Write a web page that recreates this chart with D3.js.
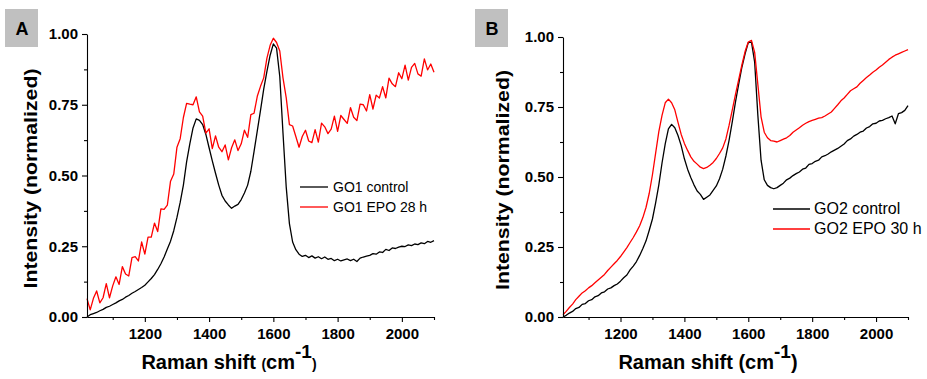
<!DOCTYPE html>
<html>
<head>
<meta charset="utf-8">
<script src="https://cdn.jsdelivr.net/npm/d3@7"></script>
<style>
  body { margin: 0; background: #fff; }
  svg text { font-family: Arial, "Liberation Sans", sans-serif; }
  .tick text { font-weight: bold; font-size: 15px; }
</style>
</head>
<body>
<div id="chart"></div>
<script>
// raman spectra, two panels, values every 10 cm-1

var shift = [1020,1030,1040,1050,1060,1070,1080,1090,1100,1110,1120,1130,1140,1150,1160,1170,1180,1190,
  1200,1210,1220,1230,1240,1250,1260,1270,1280,1290,1300,1310,1320,1330,1340,1350,1360,1370,1380,1390,
  1400,1410,1420,1430,1440,1450,1460,1470,1480,1490,1500,1510,1520,1530,1540,1550,1560,1570,1580,1590,
  1600,1610,1620,1630,1640,1650,1660,1670,1680,1690,1700,1710,1720,1730,1740,1750,1760,1770,1780,1790,
  1800,1810,1820,1830,1840,1850,1860,1870,1880,1890,1900,1910,1920,1930,1940,1950,1960,1970,1980,1990,
  2000,2010,2020,2030,2040,2050,2060,2070,2080,2090,2100]

var go1Control = [0.000,0.008,0.012,0.016,0.022,0.027,0.034,0.038,0.044,0.050,0.057,0.062,0.070,0.076,0.084,0.090,0.097,0.104,
  0.112,0.124,0.136,0.150,0.168,0.188,0.212,0.240,0.268,0.305,0.352,0.405,0.466,0.548,0.612,0.668,0.700,0.695,0.680,0.645,
  0.598,0.552,0.508,0.466,0.430,0.410,0.396,0.384,0.392,0.398,0.415,0.438,0.466,0.515,0.585,0.658,0.730,0.805,0.868,0.925,
  0.965,0.950,0.850,0.650,0.460,0.330,0.265,0.238,0.222,0.214,0.218,0.210,0.216,0.208,0.213,0.206,0.212,0.204,0.207,0.199,
  0.204,0.198,0.202,0.205,0.199,0.204,0.196,0.208,0.212,0.215,0.218,0.224,0.222,0.230,0.228,0.239,0.235,0.244,0.242,0.247,
  0.250,0.249,0.255,0.252,0.258,0.256,0.262,0.259,0.267,0.264,0.270]

var go1Epo28h = [0.065,0.025,0.066,0.092,0.050,0.068,0.118,0.068,0.110,0.142,0.115,0.178,0.152,0.145,0.210,0.213,0.198,0.265,
  0.222,0.282,0.282,0.332,0.302,0.382,0.380,0.395,0.480,0.505,0.600,0.630,0.705,0.755,0.752,0.750,0.778,0.725,0.710,0.650,
  0.665,0.595,0.640,0.600,0.584,0.608,0.555,0.598,0.626,0.588,0.612,0.660,0.635,0.715,0.720,0.780,0.815,0.845,0.915,0.960,
  0.985,0.970,0.940,0.845,0.775,0.680,0.675,0.638,0.600,0.638,0.660,0.622,0.616,0.662,0.618,0.685,0.672,0.648,0.664,0.710,
  0.656,0.712,0.698,0.684,0.740,0.706,0.694,0.752,0.750,0.728,0.786,0.735,0.784,0.774,0.814,0.774,0.844,0.824,0.814,0.863,
  0.842,0.890,0.837,0.882,0.896,0.859,0.851,0.912,0.873,0.894,0.865]

var go2Control = [0.000,0.006,0.014,0.020,0.030,0.034,0.045,0.048,0.058,0.062,0.072,0.076,0.086,0.090,0.100,0.104,0.112,0.118,
  0.128,0.140,0.150,0.168,0.182,0.198,0.220,0.245,0.272,0.310,0.350,0.408,0.472,0.550,0.618,0.672,0.688,0.676,0.648,0.612,
  0.565,0.528,0.498,0.472,0.450,0.438,0.420,0.428,0.436,0.452,0.468,0.494,0.528,0.575,0.632,0.698,0.768,0.832,0.892,0.940,
  0.980,0.982,0.910,0.720,0.560,0.490,0.470,0.462,0.458,0.462,0.470,0.478,0.490,0.496,0.505,0.512,0.518,0.528,0.532,0.545,
  0.548,0.556,0.560,0.572,0.576,0.582,0.590,0.596,0.602,0.610,0.618,0.630,0.636,0.646,0.652,0.660,0.664,0.675,0.680,0.690,
  0.692,0.700,0.702,0.708,0.712,0.718,0.690,0.726,0.730,0.738,0.755]

var go2Epo30h = [0.008,0.020,0.034,0.046,0.062,0.074,0.086,0.094,0.104,0.112,0.122,0.132,0.142,0.152,0.166,0.178,0.190,0.202,
  0.216,0.232,0.248,0.266,0.284,0.304,0.326,0.355,0.392,0.442,0.508,0.585,0.662,0.720,0.765,0.778,0.765,0.740,0.695,0.652,
  0.620,0.595,0.572,0.556,0.546,0.535,0.530,0.534,0.542,0.552,0.566,0.584,0.604,0.636,0.685,0.740,0.795,0.848,0.900,0.948,
  0.982,0.988,0.945,0.830,0.715,0.660,0.640,0.630,0.628,0.625,0.630,0.635,0.640,0.648,0.660,0.668,0.676,0.685,0.692,0.698,
  0.702,0.706,0.710,0.712,0.718,0.725,0.732,0.745,0.758,0.772,0.782,0.795,0.808,0.815,0.822,0.835,0.845,0.855,0.864,0.874,
  0.882,0.892,0.900,0.910,0.920,0.928,0.935,0.940,0.945,0.950,0.955]

var xTicks = [1200, 1400, 1600, 1800, 2000]
var xMinor = [1100, 1300, 1500, 1700, 1900, 2100]
var yTicks = [0, 0.25, 0.5, 0.75, 1]
var yMinor = [0.125, 0.375, 0.625, 0.875]
var seriesColors = ["#000000", "#ff0000"]

var width = 927, height = 379

var panels = [
  {tag: "A", left: 87, right: 434, top: 34, bottom: 317, box: 5, yTitleOff: 50,
   series: [go1Control, go1Epo28h], names: ["GO1 control", "GO1 EPO 28 h"],
   legX: 300, legY: 187, legGap: 20, legFont: 14, titleX: 229, smallParen: true},
  {tag: "B", left: 563, right: 908, top: 37, bottom: 317, box: 475, yTitleOff: 54,
   series: [go2Control, go2Epo30h], names: ["GO2 control", "GO2 EPO 30 h"],
   legX: 773, legY: 209, legGap: 20, legFont: 16, titleX: 708, smallParen: false}
]

var svg = d3.select("#chart").append("svg")
  .attr("width", width)
  .attr("height", height)

panels.forEach(function(p) {
  var g = svg.append("g")

  var x = d3.scaleLinear().domain([1020, 2100]).range([p.left, p.right])
  var y = d3.scaleLinear().domain([0, 1]).range([p.bottom, p.top])

  // panel letter box
  g.append("rect")
    .attr("x", p.box).attr("y", 9)
    .attr("width", 33).attr("height", 38)
    .attr("fill", "#c0c0c0")
  g.append("text")
    .attr("x", p.box + 17).attr("y", 35)
    .attr("text-anchor", "middle")
    .attr("font-weight", "bold")
    .attr("font-size", 18)
    .text(p.tag)

  // curves
  var line = d3.line()
    .x(function(d, i) { return x(shift[i]); })
    .y(function(d) { return y(d); })

  p.series.forEach(function(s, i) {
    g.append("path")
      .datum(s)
      .attr("fill", "none")
      .attr("stroke", seriesColors[i])
      .attr("stroke-width", 1.3)
      .attr("stroke-linejoin", "round")
      .attr("d", line)
  })

  // minor ticks first, then the labelled axes
  g.append("g")
    .attr("transform", "translate(0," + p.bottom + ")")
    .call(d3.axisBottom(x).tickValues(xMinor).tickSize(3).tickFormat("").tickSizeOuter(0))
    .call(function(a) { a.select(".domain").remove(); })
  g.append("g")
    .attr("transform", "translate(" + p.left + ",0)")
    .call(d3.axisLeft(y).tickValues(yMinor).tickSize(3).tickFormat("").tickSizeOuter(0))
    .call(function(a) { a.select(".domain").remove(); })

  g.append("g")
    .attr("transform", "translate(0," + p.bottom + ")")
    .call(d3.axisBottom(x).tickValues(xTicks).tickSize(5).tickPadding(6).tickSizeOuter(0)
      .tickFormat(d3.format("d")))
  g.append("g")
    .attr("transform", "translate(" + p.left + ",0)")
    .call(d3.axisLeft(y).tickValues(yTicks).tickSize(5).tickPadding(4).tickSizeOuter(0)
      .tickFormat(d3.format(".2f")))

  g.selectAll(".tick text").attr("fill", "#000")
  g.selectAll(".domain, .tick line").attr("stroke", "#000").attr("stroke-width", 1.1)

  // y title
  var ymid = (p.top + p.bottom) / 2 + 3
  g.append("text")
    .attr("transform", "translate(" + (p.left - p.yTitleOff) + "," + ymid + ")rotate(-90)")
    .attr("text-anchor", "middle")
    .attr("font-weight", "bold")
    .attr("font-size", 19)
    .attr("textLength", 220)
    .attr("lengthAdjust", "spacingAndGlyphs")
    .text("Intensity (normalized)")

  // x title with superscript
  var xt = g.append("text")
    .attr("x", p.titleX).attr("y", 369)
    .attr("text-anchor", "middle")
    .attr("font-weight", "bold")
    .attr("font-size", 20)
  xt.append("tspan").text("Raman shift ")
  xt.append("tspan").attr("font-size", p.smallParen ? 14 : 20).text("(")
  xt.append("tspan").text("cm")
  xt.append("tspan").attr("dy", -11).attr("font-size", 19).text("-1")
  xt.append("tspan").attr("dy", 11).attr("font-size", p.smallParen ? 14 : 20).text(")")

  // legend
  p.names.forEach(function(name, i) {
    var ly = p.legY + i * p.legGap
    g.append("line")
      .attr("x1", p.legX).attr("x2", p.legX + (p.tag == "A" ? 28 : 37))
      .attr("y1", ly).attr("y2", ly)
      .attr("stroke", seriesColors[i])
      .attr("stroke-width", 1.3)
    g.append("text")
      .attr("x", p.legX + (p.tag == "A" ? 33 : 41))
      .attr("y", ly + 5)
      .attr("font-size", p.legFont)
      .text(name)
  })
})
</script>
</body>
</html>
